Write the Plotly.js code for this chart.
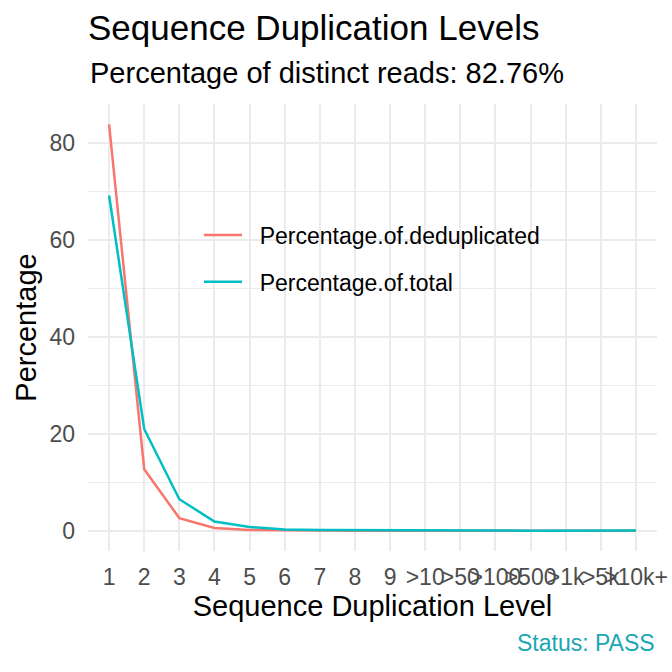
<!DOCTYPE html>
<html>
<head>
<meta charset="utf-8">
<script src="https://cdn.plot.ly/plotly-3.0.1.min.js"></script>
<style>html,body{margin:0;padding:0;background:#fff;}#chart{width:672px;height:672px;}</style>
</head>
<body>
<div id="chart"></div>
<script>
var categories = ['1','2','3','4','5','6','7','8','9','>10','>50','>100','>500','>1k','>5k','>10k+'];
var pctDeduplicated = [83.9, 12.7, 2.6, 0.55, 0.15, 0.05, 0.02, 0.01, 0.01, 0.01, 0.0, 0.0, 0.0, 0.0, 0.0, 0.0];
var pctTotal = [69.2, 21.0, 6.5, 1.9, 0.75, 0.25, 0.12, 0.07, 0.05, 0.1, 0.05, 0.02, 0.01, 0.01, 0.01, 0.03];
var yTicks = [0, 20, 40, 60, 80];
var seriesNames = ['Percentage.of.deduplicated', 'Percentage.of.total'];

var FONT = '"Liberation Sans", Arial, Helvetica, sans-serif';
var GAP = '\u00A0\u00A0';

var traces = [
  {x: categories, y: pctDeduplicated, type: 'scatter', mode: 'lines', name: GAP + seriesNames[0],
   legendgroup: 'a', line: {color: '#F8766D', width: 2.5}},
  {x: categories, y: pctTotal, type: 'scatter', mode: 'lines', name: GAP + seriesNames[1],
   legendgroup: 'b', line: {color: '#00BFC4', width: 2.5}}
];

var layout = {
  width: 672, height: 672,
  paper_bgcolor: '#fff', plot_bgcolor: '#fff',
  margin: {l: 88, r: 15, t: 104, b: 121, pad: 0},
  font: {family: FONT, color: '#000'},
  showlegend: true,
  hovermode: false,
  title: {text: 'Sequence Duplication Levels', font: {size: 35, color: '#000', family: FONT},
          x: 88/672, xanchor: 'left', xref: 'container', y: 1 - 15/672, yanchor: 'top', yref: 'container'},
  legend: {x: 0.195, y: 0.755, xanchor: 'left', yanchor: 'top', bgcolor: 'rgba(0,0,0,0)', itemwidth: 38,
           font: {size: 23, color: '#000', family: FONT}, traceorder: 'grouped', tracegroupgap: 14},
  xaxis: {type: 'category', range: [-0.6, 15.6], showgrid: true, gridcolor: '#EBEBEB', gridwidth: 2,
          zeroline: false, showline: false, ticks: '', tickangle: 0, ticklabelstandoff: 10,
          tickfont: {size: 23, color: '#4D4D4D', family: FONT},
          title: {text: 'Sequence Duplication Level', font: {size: 29, color: '#000', family: FONT}, standoff: 6},
          fixedrange: true},
  yaxis: {range: [-4.195, 88.1], tickvals: yTicks, ticktext: yTicks.map(String), showgrid: true,
          gridcolor: '#EBEBEB', gridwidth: 2, zeroline: false, showline: false, ticks: '', ticklabelstandoff: 12,
          minor: {dtick: 10, tick0: 10, showgrid: true, gridcolor: '#EBEBEB', gridwidth: 1},
          tickfont: {size: 23, color: '#4D4D4D', family: FONT},
          title: {text: 'Percentage', font: {size: 29, color: '#000', family: FONT}, standoff: 4},
          fixedrange: true},
  annotations: [
    {text: 'Percentage of distinct reads: 82.76%', xref: 'paper', yref: 'paper', x: 0, xanchor: 'left',
     y: 1 + (104 - 91) / 447, yanchor: 'bottom', showarrow: false, font: {size: 29, color: '#000', family: FONT}},
    {text: 'Status: PASS', xref: 'paper', yref: 'paper', x: 1, xanchor: 'right',
     y: -(658 - 551) / 447, yanchor: 'bottom', showarrow: false, font: {size: 23, color: '#1BA6B4', family: FONT}}
  ]
};

Plotly.newPlot('chart', traces, layout, {displayModeBar: false, staticPlot: true});
</script>
</body>
</html>
